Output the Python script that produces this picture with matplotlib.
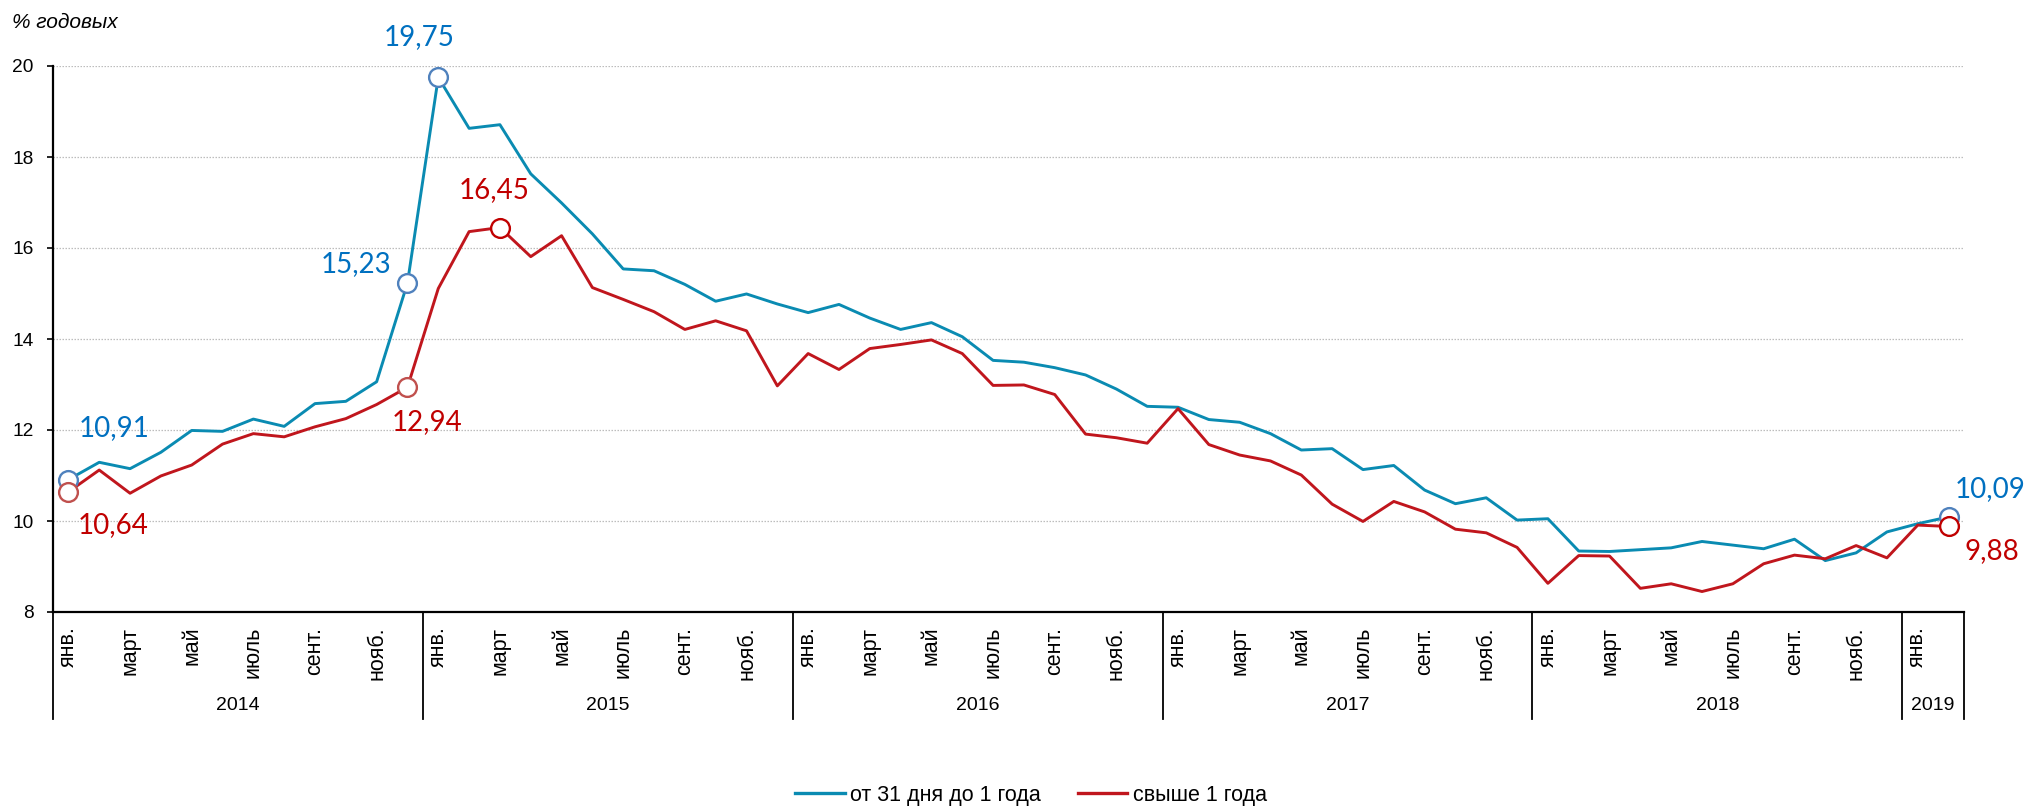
import matplotlib
matplotlib.use('Agg')
import matplotlib.pyplot as plt
from matplotlib.lines import Line2D

plt.rcParams['font.family'] = ['Liberation Sans', 'DejaVu Sans']

# ---------------- data ----------------
years = ['2014', '2015', '2016', '2017', '2018', '2019']
months_per_year = [12, 12, 12, 12, 12, 2]
month_labels = ['янв.', '', 'март', '', 'май', '', 'июль', '', 'сент.', '', 'нояб.', '']

series_short_name = 'от 31 дня до 1 года'
series_long_name = 'свыше 1 года'

short_rate = [10.91, 11.29, 11.15, 11.51, 11.99, 11.97, 12.24, 12.08, 12.58, 12.63, 13.06, 15.23,
              19.75, 18.63, 18.71, 17.63, 16.99, 16.31, 15.54, 15.50, 15.20, 14.83, 14.99, 14.77,
              14.58, 14.76, 14.46, 14.21, 14.36, 14.05, 13.53, 13.49, 13.37, 13.21, 12.90, 12.52,
              12.50, 12.23, 12.17, 11.92, 11.56, 11.59, 11.13, 11.22, 10.68, 10.38, 10.51, 10.02,
              10.05, 9.34, 9.33, 9.37, 9.41, 9.55, 9.47, 9.39, 9.60, 9.13, 9.30, 9.76,
              9.94, 10.09]
long_rate = [10.64, 11.12, 10.61, 10.99, 11.23, 11.69, 11.92, 11.85, 12.07, 12.25, 12.56, 12.94,
             15.11, 16.36, 16.45, 15.81, 16.27, 15.13, 14.87, 14.60, 14.21, 14.40, 14.18, 12.97,
             13.68, 13.33, 13.79, 13.88, 13.98, 13.68, 12.98, 12.99, 12.78, 11.91, 11.83, 11.71,
             12.47, 11.68, 11.45, 11.32, 11.01, 10.37, 9.99, 10.43, 10.20, 9.82, 9.74, 9.42,
             8.63, 9.24, 9.23, 8.52, 8.62, 8.45, 8.62, 9.06, 9.25, 9.17, 9.46, 9.19,
             9.91, 9.88]

short_marked = [0, 11, 12, 61]
long_marked = [0, 11, 14, 61]

y_ticks = [8, 10, 12, 14, 16, 18, 20]

# ---------------- styles ----------------
C_SHORT = '#0A8BB2'
C_LONG = '#C0161D'
C_SHORT_LBL = '#0070C0'
C_LONG_LBL = '#C00000'
C_SHORT_MK = '#4F81BD'
C_LONG_MK = '#C0504D'

W, H = 2028, 807
fig = plt.figure(figsize=(W / 100, H / 100), dpi=100)
ax_left, ax_right, ax_top, ax_bot = 53, 1964, 66, 612
ax = fig.add_axes([ax_left / W, 1 - ax_bot / H, (ax_right - ax_left) / W, (ax_bot - ax_top) / H])

n = len(short_rate)
x = list(range(n))

ax.plot(x, short_rate, color=C_SHORT, lw=2.1, zorder=3)
ax.plot(x, long_rate, color=C_LONG, lw=2.1, zorder=3)

MS = 13.5
ax.plot([x[i] for i in short_marked], [short_rate[i] for i in short_marked], ls='none',
        marker='o', ms=MS, mfc='white', mec=C_SHORT_MK, mew=1.7, zorder=4)
ax.plot([x[i] for i in long_marked[:2]], [long_rate[i] for i in long_marked[:2]], ls='none',
        marker='o', ms=MS, mfc='white', mec=C_LONG_MK, mew=1.7, zorder=5)
ax.plot([x[i] for i in long_marked[2:]], [long_rate[i] for i in long_marked[2:]], ls='none',
        marker='o', ms=MS, mfc='white', mec=C_LONG_LBL, mew=1.7, zorder=5)


def fmt(v):
    return f'{v:.2f}'.replace('.', ',')


# label offsets (points)
short_off = {0: (33, 37), 11: (-37, 14), 12: (-14, 29), 61: (30, 20)}
long_off = {0: (32, -24), 11: (14, -25), 14: (-4, 27), 61: (31, -18)}
lbl_font = dict(family=['Lato', 'DejaVu Sans'], fontsize=20)
for i in short_marked:
    ax.annotate(fmt(short_rate[i]), (x[i], short_rate[i]), xytext=short_off[i],
                textcoords='offset points', ha='center', va='center', color=C_SHORT_LBL,
                annotation_clip=False, **lbl_font)
for i in long_marked:
    ax.annotate(fmt(long_rate[i]), (x[i], long_rate[i]), xytext=long_off[i],
                textcoords='offset points', ha='center', va='center', color=C_LONG_LBL,
                annotation_clip=False, **lbl_font)

# axes
ax.set_xlim(-0.5, n - 0.5)
ax.set_ylim(8, 20)
ax.set_yticks(y_ticks)
ax.set_yticklabels([str(v) for v in y_ticks], fontsize=13.8)
ax.tick_params(axis='y', length=4.3, width=1.2, pad=9.6, direction='out', color='black')

labels = []
for m in months_per_year:
    labels += month_labels[:m]
ax.set_xticks(x)
ax.set_xticklabels(labels, rotation=90, fontsize=15.5, va='top', ha='center')
ax.tick_params(axis='x', length=0, pad=10.5)

for v in y_ticks[1:]:
    ax.axhline(v, color='#BDBDBD', lw=0.9, ls=(0, (1.2, 1.2)), zorder=1)

for s in ['top', 'right']:
    ax.spines[s].set_visible(False)
ax.spines['left'].set_linewidth(1.6)
ax.spines['bottom'].set_linewidth(1.6)

# year groups
trans = ax.get_xaxis_transform()
sep_bottom = -(719 - ax_bot) / (ax_bot - ax_top)
year_y = -(705 - ax_bot) / (ax_bot - ax_top)
start = 0
bounds = [-0.5]
for yr, m in zip(years, months_per_year):
    end = start + m
    ax.text((start + end - 1) / 2, year_y, yr, transform=trans, ha='center', va='center', fontsize=14)
    bounds.append(end - 0.5)
    start = end
for b in bounds:
    ax.plot([b, b], [0, sep_bottom], transform=trans, color='black', lw=1.3, clip_on=False)

fig.text(12 / W, 1 - 23 / H, '% годовых', fontsize=15, style='italic', ha='left', va='center')

handles = [Line2D([], [], color=C_SHORT, lw=2.4), Line2D([], [], color=C_LONG, lw=2.4)]
fig.legend(handles, [series_short_name, series_long_name], loc='center',
           bbox_to_anchor=(1031 / W, 1 - 795 / H), ncol=2, frameon=False, fontsize=15.5,
           handlelength=2.3, handletextpad=0.25, columnspacing=1.7, borderpad=0)

fig.savefig('out.png', dpi=100)
